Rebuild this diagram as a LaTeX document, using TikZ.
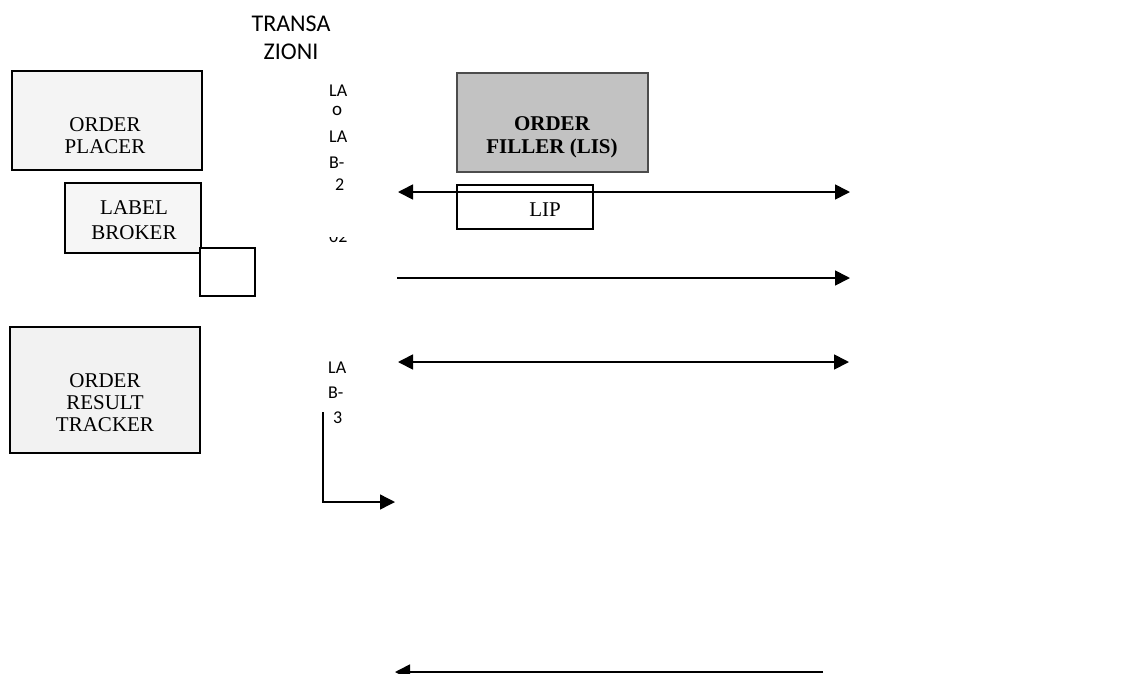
\documentclass[tikz,border=0pt]{standalone}
\usepackage{fontspec}
\setmainfont{Liberation Serif}
\newfontfamily\labfont{Carlito}
\usetikzlibrary{arrows.meta}
\begin{document}
\begin{tikzpicture}[x=1pt,y=-1pt,
  boxshape/.style={draw=black, line width=1.3pt, rectangle, inner sep=0pt},
  boxtext/.style={font=\fontsize{21}{22}\selectfont, align=center, inner sep=0pt},
  lab/.style={font=\labfont\fontsize{18}{20}\selectfont, inner sep=0pt, anchor=base west},
  conn/.style={line width=1.7pt, -{Triangle[length=15pt,width=15pt]}},
  dconn/.style={line width=1.7pt, {Triangle[length=15pt,width=15pt]}-{Triangle[length=15pt,width=15pt]}}
]
\useasboundingbox (0,0) rectangle (1125,673);
\fill[white] (0,0) rectangle (1125,673);

% title
\node[font=\labfont\fontsize{24}{28}\selectfont, align=center, inner sep=0pt] (title) at (291,38) {TRANSA\\ZIONI};

% boxes
\node[boxshape, fill=gray!9, minimum width=190pt, minimum height=99pt] (placerbox) at (107,120.5) {};
\node[boxtext] (placer) at (105,136) {ORDER\\PLACER};

\node[boxshape, fill=gray!7, minimum width=136pt, minimum height=70pt] (brokerbox) at (133,218) {};
\node[boxtext, font=\fontsize{21}{25}\selectfont] (broker) at (134,220.5) {LABEL\\BROKER};

\node[boxshape, fill=white, minimum width=55pt, minimum height=48pt] (small) at (227.5,272) {};

\node[boxshape, fill=gray!10, minimum width=190pt, minimum height=126pt] (trackerbox) at (105,390) {};
\node[boxtext] (tracker) at (105,402.5) {ORDER\\RESULT\\TRACKER};

\node[boxshape, fill=gray!48, draw=gray!60!black, minimum width=191pt, minimum height=99pt] (fillerbox) at (552.5,122.5) {};
\node[boxtext, font=\bfseries\fontsize{21}{23}\selectfont] (filler) at (552,137.5) {ORDER\\FILLER (LIS)};

\node[boxshape, minimum width=136pt, minimum height=44pt] (lipbox) at (525,207) {};
\node[boxtext] (lip) at (545,210) {LIP};

% side labels
\node[lab] (la1) at (329,96) {LA};
\node[lab, font=\labfont\fontsize{19}{20}\selectfont] (frag1) at (332,115.5) {o};
\node[lab] (la2) at (329,142) {LA};
\node[lab] (b2) at (329,168) {B-};
\node[lab] (n2) at (335,190) {2};
\begin{scope}
  \clip (320,237.5) rectangle (360,246);
  \node[lab] (frag2) at (329,242.5) {02};
\end{scope}
\node[lab] (la3) at (328,373) {LA};
\node[lab] (b3) at (328,398) {B-};
\node[lab] (n3) at (333,423) {3};

% connectors
\coordinate (a1l) at (398,192);
\coordinate (a1r) at (850,192);
\coordinate (a2l) at (397,278);
\coordinate (a2r) at (850,278);
\coordinate (a3l) at (398,362);
\coordinate (a3r) at (849,362);
\coordinate (a4s) at (323,412);
\coordinate (a4e) at (395,502);
\coordinate (a5s) at (823,672);
\coordinate (a5e) at (395,672);

\draw[dconn] (a1l) -- (a1r);
\draw[conn] (a2l) -- (a2r);
\draw[dconn] (a3l) -- (a3r);
\draw[conn, line width=1.4pt] (a4s) |- (a4e);
\draw[conn] (a5s) -- (a5e);
\end{tikzpicture}
\end{document}
